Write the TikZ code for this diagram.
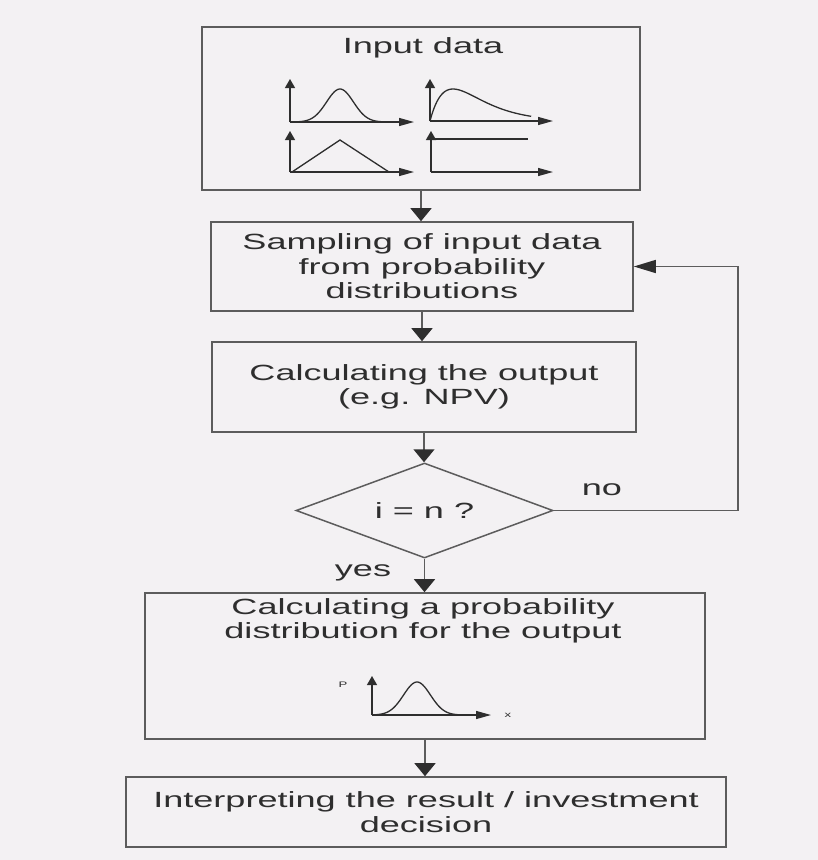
\documentclass[tikz,border=0pt]{standalone}
\usepackage{fontspec}
\setmainfont{Liberation Sans}[FakeStretch=1.64]
\usetikzlibrary{arrows.meta,shapes.geometric}
\definecolor{bg}{HTML}{F3F1F3}
\definecolor{ln}{HTML}{5C5C5C}
\definecolor{tx}{HTML}{2E2E2E}
\begin{document}
\begin{tikzpicture}[x=1pt,y=-1pt,
  boxstyle/.style={draw=ln, line width=1.6pt, inner sep=0pt},
  txt/.style={text=tx, font=\fontsize{22}{24.5}\selectfont, align=center, inner sep=0pt},
  flow/.style={draw=ln, line width=1.5pt, -{Triangle[width=21pt,length=13pt,color=tx]}},
  flowh/.style={draw=ln, line width=1.5pt, -{Triangle[width=13pt,length=22pt,color=tx]}},
  axv/.style={draw=tx, line width=1.3pt, -{Triangle[width=10pt,length=9pt,color=tx]}},
  axh/.style={draw=tx, line width=1.3pt, -{Triangle[width=8pt,length=15pt,color=tx]}},
  curve/.style={draw=tx, line width=1.3pt},
  small/.style={text=tx, font=\fontsize{8}{9}\selectfont, inner sep=0pt}
]
\useasboundingbox (0,0) rectangle (818,860);
\fill[bg] (0,0) rectangle (818,860);

% boxes
\node[boxstyle, minimum width=438pt, minimum height=163pt] (inp) at (421,108.5) {};
\node[txt, anchor=base] (inptitle) at (423,53) {Input data};

\node[boxstyle, txt, minimum width=422pt, minimum height=89pt] (samp) at (422,266.5)
  {Sampling of input data\\from probability\\distributions};

\node[boxstyle, txt, minimum width=424pt, minimum height=90pt] (calc) at (424,387)
  {Calculating the output\\(e.g. NPV)};

\node[draw=ln, line width=1.5pt, diamond, aspect=2.7, minimum width=257pt,
  minimum height=95pt, txt] (dec) at (424.5,510.5) {i = n ?};

\node[boxstyle, minimum width=560pt, minimum height=146pt] (dist) at (425,666) {};
\node[txt, anchor=north] (disttxt) at (423,598)
  {Calculating a probability\\distribution for the output};

\node[boxstyle, txt, minimum width=600pt, minimum height=70pt] (interp) at (426,812)
  {Interpreting the result / investment\\decision};

% labels
\node[txt, anchor=base] (nolab) at (602,495) {no};
\node[txt, anchor=base] (yeslab) at (363,576) {yes};

% connectors
\draw[flow] (inp.south) -- (inp.south |- samp.north);
\draw[flow] (samp.south) -- (samp.south |- calc.north);
\draw[flow] (calc.south) -- (calc.south |- dec.north);
\draw[flow] (dec.south) -- (dec.south |- dist.north);
\draw[flow] (dist.south) -- (dist.south |- interp.north);
\coordinate (fbx) at (738,300);
\draw[flowh] (dec.east) -- (dec.east -| fbx) |- (samp.east);

% input graphs
% normal
\draw[axv] (290,122) -- (290,79);
\draw[axh] (290,122) -- (414,122);
\draw[curve] plot[domain=292:392, samples=60, smooth]
  (\x, {122-33*exp(-((\x-340)/19)*((\x-340)/19))});
% skewed
\draw[axv] (430,121) -- (430,79);
\draw[axh] (430,121) -- (553,121);
\draw[curve] plot[domain=0:4.4, samples=60, smooth]
  ({430+23*\x}, {121-32*\x*exp(1-\x)});
% triangular
\draw[axv] (290,172) -- (290,131);
\draw[axh] (290,172) -- (414,172);
\draw[curve] (292,172) -- (340,140) -- (389,172);
% uniform
\draw[axv] (431,172) -- (431,131);
\draw[axh] (431,172) -- (553,172);
\draw[curve] (431,139) -- (528,139);

% output graph
\draw[axv] (372,715) -- (372,676);
\draw[axh] (372,715) -- (491,715);
\draw[curve] plot[domain=374:470, samples=60, smooth]
  (\x, {715-33*exp(-((\x-417)/19)*((\x-417)/19))});
\node[small] (plab) at (343,685) {P};
\node[small] (xlab) at (508,715) {x};
\end{tikzpicture}
\end{document}
